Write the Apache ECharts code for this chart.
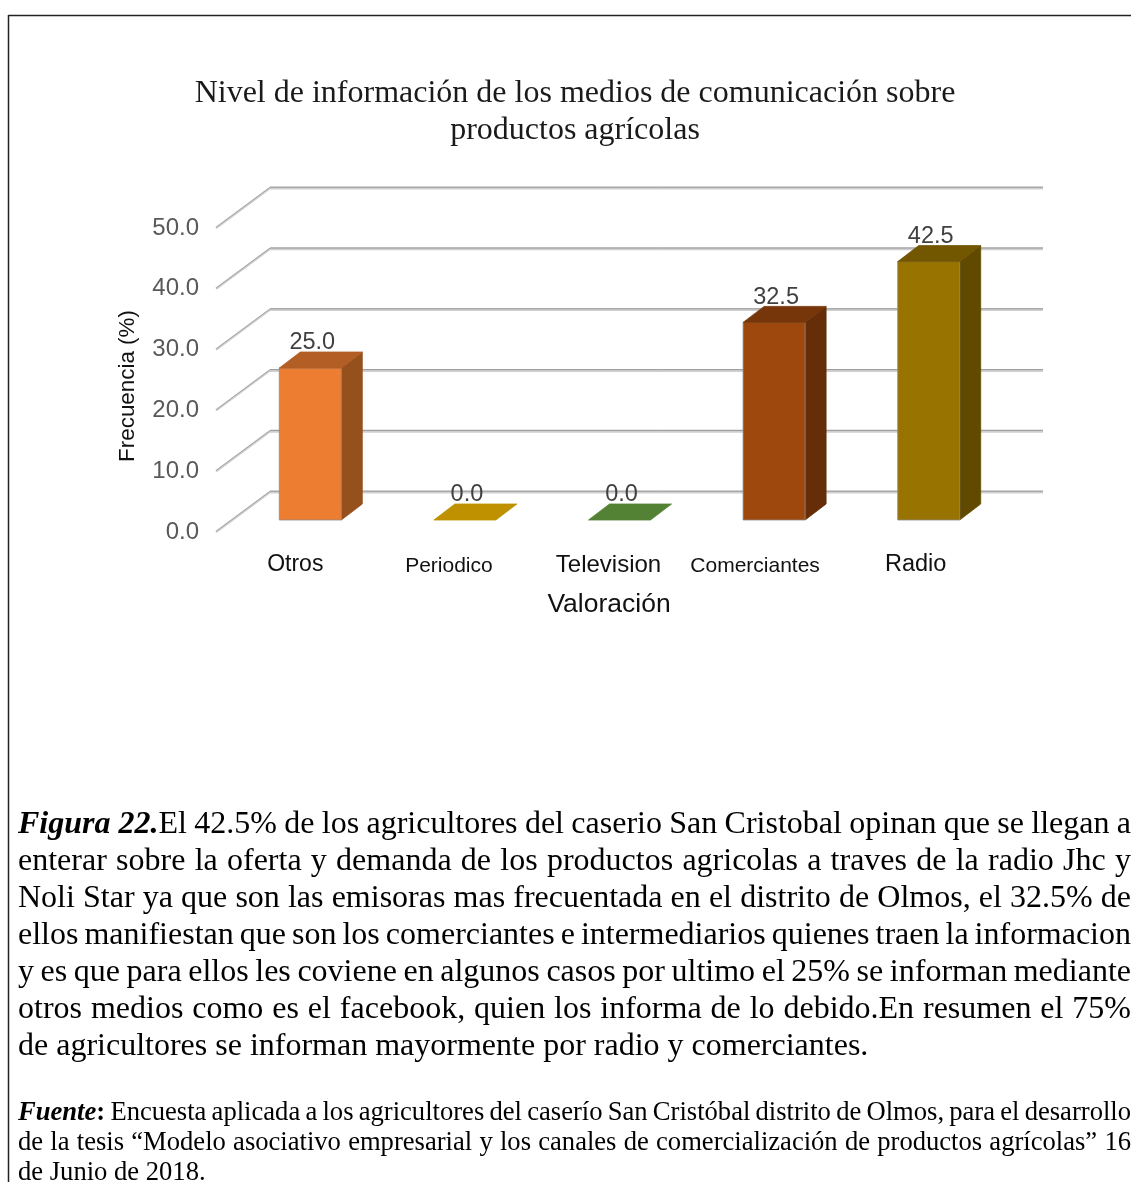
<!DOCTYPE html>
<html><head><meta charset="utf-8">
<style>html,body{margin:0;padding:0;background:#fff}#c{width:1131px;height:1182px}</style>
<script src="https://cdn.jsdelivr.net/npm/echarts@6/dist/echarts.min.js"></script>
</head><body><div id="c"></div>
<script>
const categories = ['Otros','Periodico','Television','Comerciantes','Radio'];
const values = [25.0,0.0,0.0,32.5,42.5];
const frontColors = ['#ED7D31','#BF9000','#548235','#9E480E','#997300'];
const topColors = ['#B25E25','#BF9000','#548235','#773609','#735600'];
const sideColors = ['#96501C','#8F6C00','#3F6228','#652D08','#614900'];
const yTicks = [0,10,20,30,40,50];
const labelSizes = [23,21,24,21,23.5];
const labelPadding = [[0,0,0,4],[3,0,0,2],[0,0,0,12],[3,4,0,0],[0,0,0,8]];
const titleText = 'Nivel de información de los medios de comunicación sobre\nproductos agrícolas';
const figLines = [
 ['Figura 22.','El 42.5% de los agricultores del caserio San Cristobal opinan que se llegan a'],
 ['','enterar sobre la oferta y demanda de los productos agricolas a traves de la radio Jhc y'],
 ['','Noli Star ya que son las emisoras mas frecuentada en el distrito de Olmos, el 32.5% de'],
 ['','ellos manifiestan que son los comerciantes e intermediarios quienes traen la informacion'],
 ['','y es que para ellos les coviene en algunos casos por ultimo el 25% se informan mediante'],
 ['','otros medios como es el facebook, quien los informa de lo debido.En resumen el 75%'],
 ['','de agricultores se informan mayormente por radio y comerciantes.']
];
const srcLines = [
 ['Fuente','Encuesta aplicada a los agricultores del caserío San Cristóbal distrito de Olmos, para el desarrollo'],
 ['','de la tesis “Modelo asociativo empresarial y los canales de comercialización de productos agrícolas” 16'],
 ['','de Junio de 2018.']
];

// pseudo-3D geometry (pixels)
const WALL_DX = 54, WALL_DY = -40, BAR_DX = 17, BAR_DY = -12, BAR_W = 62, DEPTH_DX = 21, DEPTH_DY = -16;
const GRID = {left:216, top:228, width:773, height:304};

const serifCtx = document.createElement('canvas').getContext('2d');
function justified(lines, x, right, y0, lh, size, boldRun){
  const els = [];
  lines.forEach((ln, i) => {
    const y = y0 + i*lh;
    const lead = ln[0], words = ln[1].split(' ');
    const bi = `italic bold ${size}px "Liberation Serif"`, rg = `${size}px "Liberation Serif"`, bd = `bold ${size}px "Liberation Serif"`;
    const items = [];
    if (lead) {
      serifCtx.font = bi; items.push({t:lead, f:bi, w:serifCtx.measureText(lead).width, attach:!!boldRun || lead.endsWith('.')});
      if (boldRun) { serifCtx.font = bd; items.push({t:boldRun, f:bd, w:serifCtx.measureText(boldRun).width}); }
    }
    serifCtx.font = rg;
    words.forEach(w => items.push({t:w, f:rg, w:serifCtx.measureText(w).width}));
    const gaps = items.filter((it,k) => k < items.length-1 && !it.attach).length;
    const total = items.reduce((a,it) => a+it.w, 0);
    const last = i === lines.length-1;
    const gap = last ? serifCtx.measureText(' ').width : (right-x-total)/Math.max(gaps,1);
    let cx = x;
    items.forEach(it => {
      els.push({type:'text', x:cx, y:y, silent:true, style:{text:it.t, font:it.f, fill:'#000', textAlign:'left', textVerticalAlign:'middle'}});
      cx += it.w + (it.attach ? 0 : gap);
    });
  });
  return els;
}

const chart = echarts.init(document.getElementById('c'), null, {renderer:'canvas'});

function renderWall(params, api){
  const v = api.value(0);
  const p0 = api.coord([0, v]);
  const cs = params.coordSys;
  const fx = cs.x, fy = p0[1];
  const bx = fx + WALL_DX, by = fy + WALL_DY, ex = cs.x + cs.width + WALL_DX;
  const seg = (x1,y1,x2,y2,c,w)=>({type:'line', shape:{x1,y1,x2,y2}, style:{stroke:c, lineWidth:w}});
  return {type:'group', children:[
    seg(fx,fy,bx,by,'#cfcfcf',2.4),
    seg(fx,fy-0.6,bx,by-0.6,'#999',0.8),
    seg(bx,by,ex,by,'#cfcfcf',3),
    seg(bx,by-0.8,ex,by-0.8,'#9a9a9a',1)
  ]};
}
function renderBar(params, api){
  const i = api.value(0), v = api.value(1);
  const top = api.coord([i, v]), base = api.coord([i, 0]);
  const xl = top[0] + BAR_DX - BAR_W/2, xr = xl + BAR_W;
  const yt = top[1] + BAR_DY, yb = base[1] + BAR_DY;
  const ci = params.dataIndex;
  const poly = (points, fill, stroke)=>({type:'polygon', shape:{points}, style:{fill, stroke:stroke||fill, lineWidth:0.8}});
  const ch = [];
  if (v > 0) {
    ch.push(poly([[xr,yt],[xr+DEPTH_DX,yt+DEPTH_DY],[xr+DEPTH_DX,yb+DEPTH_DY],[xr,yb]], sideColors[ci]));
    ch.push(poly([[xl,yt],[xr,yt],[xr,yb],[xl,yb]], frontColors[ci], '#8a8a8a'));
  }
  ch.push(poly([[xl,yt],[xr,yt],[xr+DEPTH_DX,yt+DEPTH_DY],[xl+DEPTH_DX,yt+DEPTH_DY]], topColors[ci]));
  ch.push({type:'text', x:xl+BAR_W/2+2, y:yt-25, style:{text:v.toFixed(1), font:'23.5px "Liberation Sans"', fill:'#404040', textAlign:'center', textVerticalAlign:'middle'}});
  return {type:'group', children:ch};
}

chart.setOption({
  animation:false,
  backgroundColor:'#fff',
  title:{text:titleText, left:570, top:70, textAlign:'center',
    textStyle:{fontFamily:'Liberation Serif', fontSize:32, fontWeight:'normal', color:'#1a1a1a', lineHeight:37}},
  grid:GRID,
  xAxis:{type:'category',
    data:categories.map((c,i)=>({value:c, textStyle:{fontSize:labelSizes[i], padding:labelPadding[i]}})),
    axisLine:{show:false}, axisTick:{show:false},
    axisLabel:{interval:0, hideOverlap:false, fontFamily:'Liberation Sans', fontSize:23, color:'#111', margin:21},
    name:'Valoración', nameLocation:'middle', nameGap:59,
    nameTextStyle:{fontFamily:'Liberation Sans', fontSize:26.5, color:'#111', padding:[0,0,0,13]}},
  yAxis:{type:'value', min:0, max:50, interval:10, splitLine:{show:false}, axisLine:{show:false}, axisTick:{show:false},
    axisLabel:{fontFamily:'Liberation Sans', fontSize:24, color:'#595959', margin:17, padding:[3,0,0,0], formatter:v=>v.toFixed(1)},
    name:'Frecuencia (%)', nameLocation:'middle', nameGap:77,
    nameTextStyle:{fontFamily:'Liberation Sans', fontSize:22.4, color:'#111', padding:[0,12,0,0]}},
  series:[
    {type:'custom', renderItem:renderWall, data:yTicks.map(t=>[t]), encode:{y:0}, silent:true, z:1, clip:false},
    {type:'custom', renderItem:renderBar, data:values.map((v,i)=>[i,v]), encode:{x:0,y:1}, silent:true, z:3, clip:false}
  ],
  graphic:{elements:[
    {type:'line', shape:{x1:8.5,y1:15.5,x2:1131,y2:15.5}, style:{stroke:'#222',lineWidth:1.5}, silent:true},
    {type:'line', shape:{x1:8.5,y1:15,x2:8.5,y2:1182}, style:{stroke:'#222',lineWidth:1.5}, silent:true},
    ...justified(figLines, 18, 1131, 824.5, 37, 32),
    ...justified(srcLines, 18, 1131, 1113.5, 29.7, 26.6, ':')
  ]}
});
</script></body></html>
